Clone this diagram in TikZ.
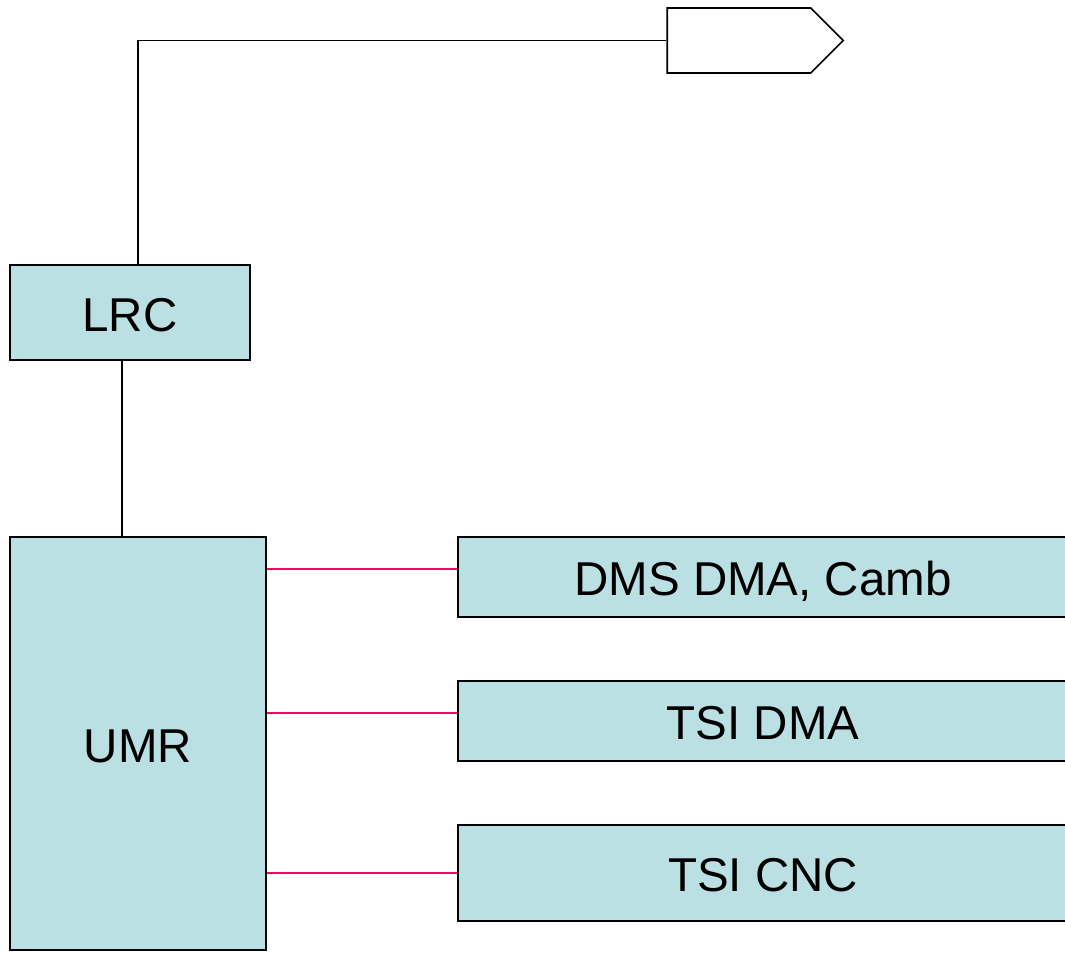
\documentclass[tikz,border=0pt]{standalone}
\usepackage{fontspec}
\setmainfont{Liberation Sans}
\usetikzlibrary{positioning}
\usetikzlibrary{shapes.symbols}
\definecolor{boxfill}{RGB}{187,224,227}
\definecolor{linkpink}{RGB}{255,0,102}
\tikzset{x=1pt, y=-1pt,
every node/.style={ % Sets the font for every label
font=\fontsize{47.5}{56}\selectfont},
unit/.style={ % Sets the properties for each box
draw, line width=2.2pt,
fill=boxfill,
inner sep=0pt, text height=37pt, text depth=0pt},
flagbox/.style={ % The open pointer at the top
draw, line width=1.6pt,
shape=signal, signal to=east, signal pointer angle=90,
inner sep=0pt, minimum width=176pt, minimum height=65pt},
wire/.style={ % Black connectors
draw, line width=1.6pt},
link/.style={ % Pink connectors
draw=linkpink, line width=2pt}}

\begin{document}
\begin{tikzpicture}
\clip (0,0) rectangle (1065,953);
\node[flagbox] (F) at (739,40.5) {};
\node[unit, minimum width=240pt, minimum height=95pt] (LRC) at (130,312.5) {LRC};
\node[unit, minimum width=256pt, minimum height=413pt] (UMR) at (138,743.5) {UMR};
\node[unit, minimum width=610pt, minimum height=80pt] (DMS) at (763,577) {DMS DMA, Camb};
\node[unit, minimum width=610pt, minimum height=80pt] (TDMA) at (763,721) {TSI DMA};
\node[unit, minimum width=610pt, minimum height=96pt] (TCNC) at (763,873) {TSI CNC};
\coordinate (dmsin) at ([yshift=8pt]DMS.west);
\coordinate (tdmain) at ([yshift=8pt]TDMA.west);
\draw[wire] ([xshift=8pt]LRC.north) |- (F.west);
\draw[wire] ([xshift=-8pt]LRC.south) -- ([xshift=-8pt]LRC.south |- UMR.north);
\draw[link] (UMR.east |- dmsin) -- (dmsin);
\draw[link] (UMR.east |- tdmain) -- (tdmain);
\draw[link] (UMR.east |- TCNC.west) -- (TCNC.west);
\end{tikzpicture}
\end{document}
